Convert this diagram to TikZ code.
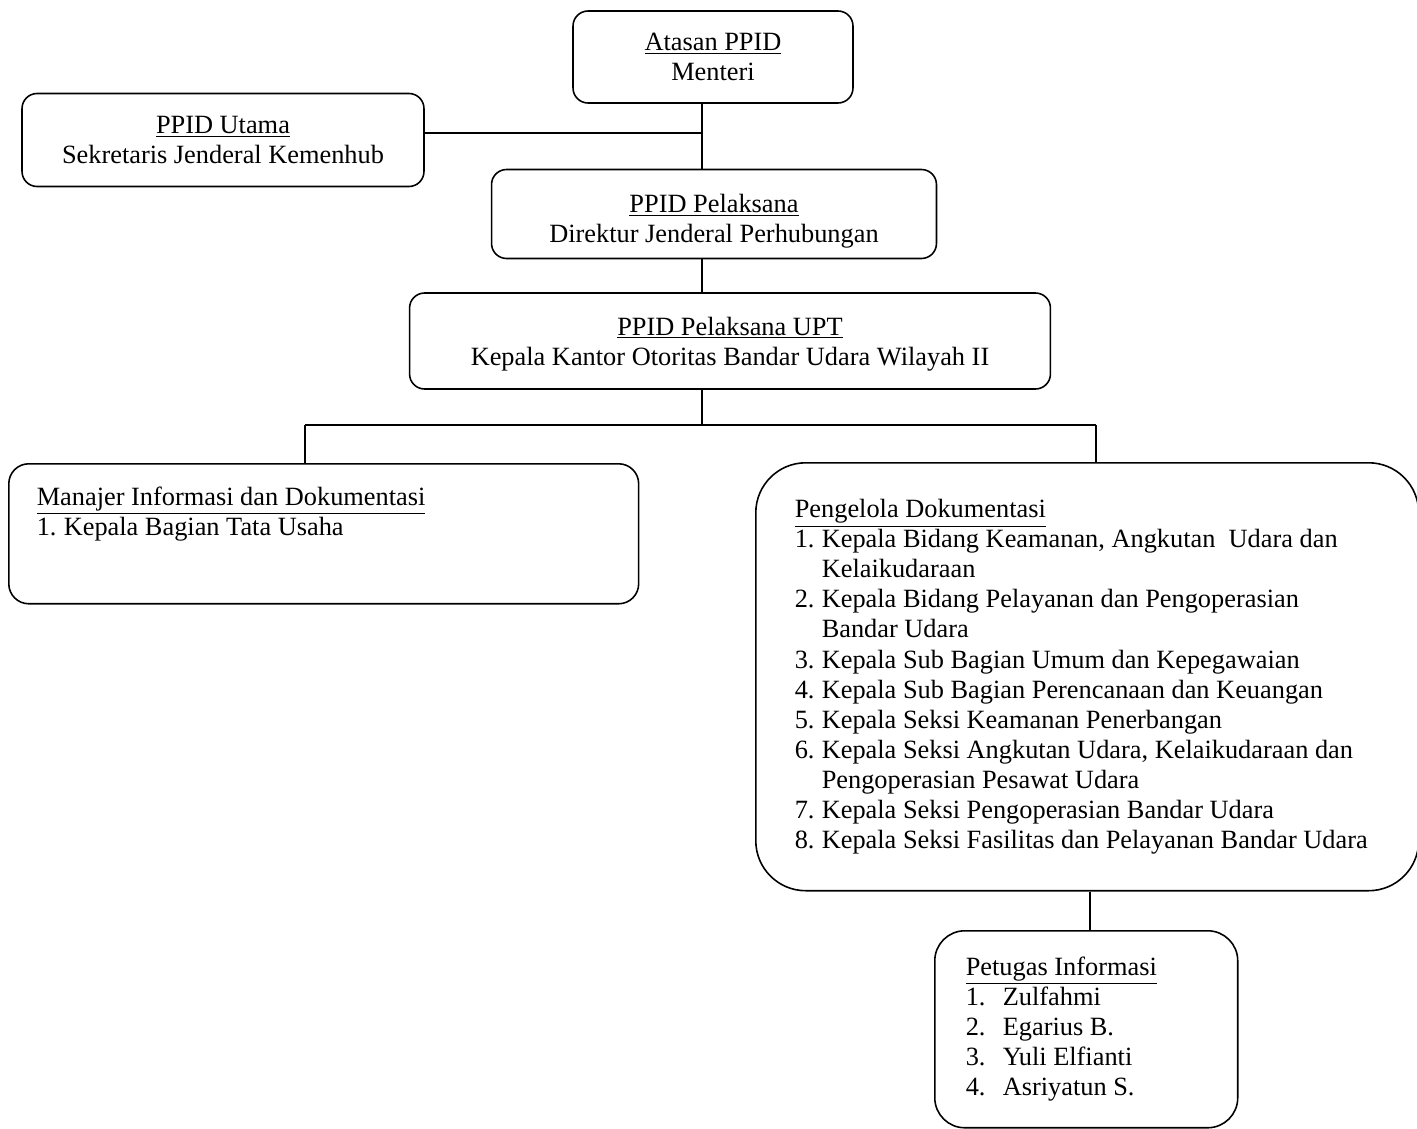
\documentclass[tikz,border=0pt]{standalone}
\usepackage{fontspec}
\setmainfont{Liberation Serif}
\usetikzlibrary{positioning}

\newcommand{\nomor}[3][0.54cm]{\makebox[#1][l]{#2.}#3}
\newcommand{\lanjut}[2][0.54cm]{\hspace*{#1}#2}

\begin{document}
\begin{tikzpicture}[
    x=0.02cm, y=-0.02cm,
    kotak/.style={draw=black, line width=0.9pt, rounded corners=#1, inner sep=0pt,
      align=center, font=\fontsize{15}{17.1}\selectfont},
    kotak/.default=0.3cm,
    daftar/.style={kotak=#1, align=flush left, anchor=north west},
    garis/.style={draw=black, line width=0.8pt},
  ]

  \useasboundingbox (0,0) rectangle (1417,1129);

  \node [kotak, minimum width=5.6cm, minimum height=1.84cm] (atasan) at (713,57) {\underline{Atasan PPID}\\Menteri};
  \node [kotak, minimum width=8.04cm, minimum height=1.86cm] (utama) at (223,140) {\underline{PPID Utama}\\Sekretaris Jenderal Kemenhub};
  \node [kotak, minimum width=8.9cm, minimum height=1.78cm] (pelaksana) at (714,214) {\rule{0pt}{19pt}\underline{PPID Pelaksana}\\Direktur Jenderal Perhubungan};
  \node [kotak, minimum width=12.82cm, minimum height=1.92cm] (upt) at (730,341) {\rule{0pt}{13.6pt}\underline{PPID Pelaksana UPT}\\Kepala Kantor Otoritas Bandar Udara Wilayah II};

  \node [daftar=0.4cm, text width=11.48cm, inner xsep=0.56cm, minimum height=2.8cm] (manajer) at (8,463)
    {\underline{Manajer Informasi dan Dokumentasi}\\
     \nomor{1}{Kepala Bagian Tata Usaha}\\[9pt]
     \mbox{}};
  \node [daftar=1cm, text width=11.7cm, inner xsep=0.78cm, minimum height=8.56cm] (pengelola) at (755,462)
    {\underline{Pengelola Dokumentasi}\\
     \nomor{1}{Kepala Bidang Keamanan, Angkutan\ \ Udara dan}\\
     \lanjut{Kelaikudaraan}\\
     \nomor{2}{Kepala Bidang Pelayanan dan Pengoperasian}\\
     \lanjut{Bandar Udara}\\
     \nomor{3}{Kepala Sub Bagian Umum dan Kepegawaian}\\
     \nomor{4}{Kepala Sub Bagian Perencanaan dan Keuangan}\\
     \nomor{5}{Kepala Seksi Keamanan Penerbangan}\\
     \nomor{6}{Kepala Seksi Angkutan Udara, Kelaikudaraan dan}\\
     \lanjut{Pengoperasian Pesawat Udara}\\
     \nomor{7}{Kepala Seksi Pengoperasian Bandar Udara}\\
     \nomor{8}{Kepala Seksi Fasilitas dan Pelayanan Bandar Udara}};
  \node [daftar=0.6cm, text width=4.82cm, inner xsep=0.62cm, minimum height=3.94cm] (petugas) at (934,930)
    {\underline{Petugas Informasi}\\
     \nomor[0.74cm]{1}{Zulfahmi}\\
     \nomor[0.74cm]{2}{Egarius B.}\\
     \nomor[0.74cm]{3}{Yuli Elfianti}\\
     \nomor[0.74cm]{4}{Asriyatun S.}};

  \coordinate (batang) at (702,425);
  \coordinate (cabang) at (702,133);
  \coordinate (kiri) at (305,425);
  \coordinate (kanan) at (1096,425);
  \coordinate (bawah) at (1090,0);

  \draw [garis] (atasan.south -| batang) -- (pelaksana.north -| batang);
  \draw [garis] (cabang -| utama.east) -- (cabang);
  \draw [garis] (pelaksana.south -| batang) -- (upt.north -| batang);
  \draw [garis] (upt.south -| batang) -- (batang);
  \draw [garis] (kiri) -- (kanan);
  \draw [garis] (kiri) -- (manajer.north -| kiri);
  \draw [garis] (kanan) -- (pengelola.north -| kanan);
  \draw [garis] (pengelola.south -| bawah) -- (petugas.north -| bawah);

\end{tikzpicture}
\end{document}
